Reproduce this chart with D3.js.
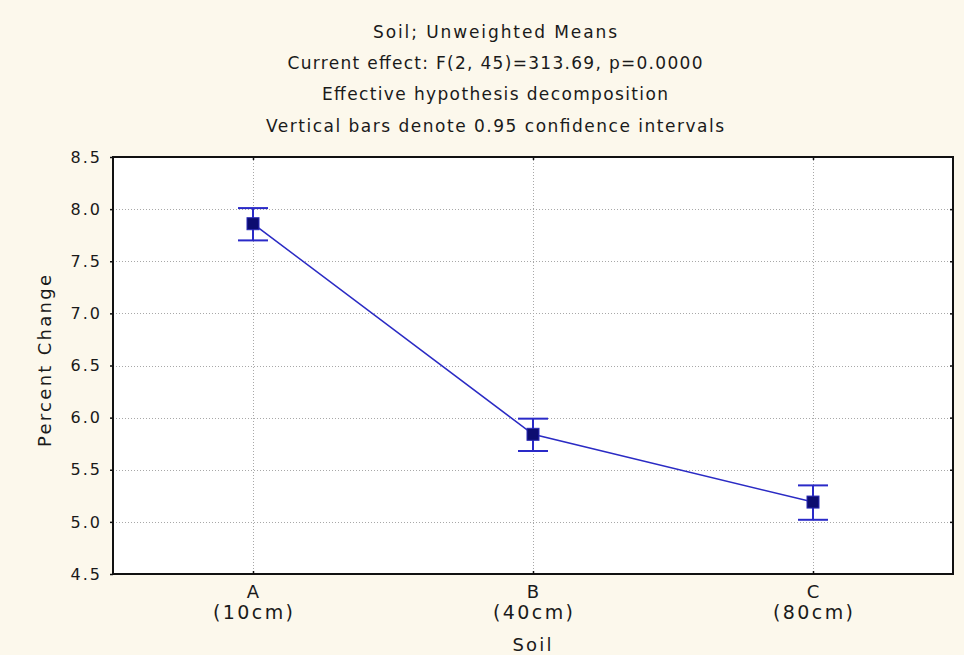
<!DOCTYPE html>
<html>
<head>
<meta charset="utf-8">
<script src="https://cdn.jsdelivr.net/npm/d3@7"></script>
<style>
  html, body { margin: 0; padding: 0; background: #fcf8ec; }
  svg { display: block; }
  text { font-family: "DejaVu Sans", Verdana, sans-serif; fill: #1a1a1a; }
</style>
</head>
<body>
<svg id="chart" width="964" height="655"></svg>
<script>
// Soil depth categories (letter + depth shown below each tick)
const categories = ["A", "B", "C"];
const depths = ["(10cm)", "(40cm)", "(80cm)"];
// Unweighted means and 0.95 confidence limits of Percent Change
const means = [7.86, 5.84, 5.19];
const ciLow = [7.70, 5.68, 5.02];
const ciHigh = [8.01, 5.99, 5.35];
// Y axis ticks
const yTicks = [4.5, 5.0, 5.5, 6.0, 6.5, 7.0, 7.5, 8.0, 8.5];
const titleLines = [
  "Soil; Unweighted Means",
  "Current effect: F(2, 45)=313.69, p=0.0000",
  "Effective hypothesis decomposition",
  "Vertical bars denote 0.95 confidence intervals"
];
const titleWidths = [244, 415, 346, 458];

const svg = d3.select("#chart");
const plot = { left: 113, right: 953, top: 157, bottom: 574 };

const x = d3.scalePoint().domain(categories).range([plot.left, plot.right]).padding(0.5);
const y = d3.scaleLinear().domain([4.5, 8.5]).range([plot.bottom, plot.top]);

// Titles
svg.append("g").selectAll("text").data(titleLines).join("text")
  .attr("x", 495)
  .attr("y", (d, i) => 38 + i * 31.2)
  .attr("text-anchor", "middle")
  .attr("font-size", 17)
  .attr("textLength", (d, i) => titleWidths[i])
  .attr("lengthAdjust", "spacing")
  .text(d => d);

// Plot background
svg.append("rect")
  .attr("x", plot.left).attr("y", plot.top)
  .attr("width", plot.right - plot.left).attr("height", plot.bottom - plot.top)
  .attr("fill", "#ffffff");

// Grid lines
const grid = svg.append("g").attr("stroke", "#a8a8a8").attr("stroke-dasharray", "1,2").attr("stroke-width", 1);
grid.selectAll("line.h").data(yTicks.filter(t => t > 4.5 && t < 8.5)).join("line")
  .attr("class", "h")
  .attr("x1", plot.left).attr("x2", plot.right)
  .attr("y1", d => Math.round(y(d)) + 0.5).attr("y2", d => Math.round(y(d)) + 0.5);
grid.selectAll("line.v").data(categories).join("line")
  .attr("class", "v")
  .attr("y1", plot.top).attr("y2", plot.bottom)
  .attr("x1", d => Math.round(x(d)) + 0.5).attr("x2", d => Math.round(x(d)) + 0.5);

// Axes
const yAxisL = d3.axisLeft(y).tickValues(yTicks).tickSize(3).tickFormat(d3.format(".1f"));
const yAxisR = d3.axisLeft(y).tickValues(yTicks.filter(t => t > 4.5 && t < 8.5)).tickSize(3).tickFormat("");
const xAxisB = d3.axisTop(x).tickSize(3).tickFormat("");
const xAxisT = d3.axisBottom(x).tickSize(3).tickFormat("");

const gl = svg.append("g").attr("transform", `translate(${plot.left},0)`).call(yAxisL);
gl.select(".domain").remove();
gl.selectAll("text").attr("font-size", 16).attr("letter-spacing", 2).attr("x", -11).attr("fill", "#1a1a1a");
svg.append("g").attr("transform", `translate(${plot.right},0)`).call(yAxisR).select(".domain").remove();
svg.append("g").attr("transform", `translate(0,${plot.bottom})`).call(xAxisB).select(".domain").remove();
svg.append("g").attr("transform", `translate(0,${plot.top})`).call(xAxisT).select(".domain").remove();
svg.selectAll(".tick line").attr("stroke", "#111").attr("stroke-width", 1.5);

// Frame
svg.append("rect")
  .attr("x", plot.left).attr("y", plot.top)
  .attr("width", plot.right - plot.left).attr("height", plot.bottom - plot.top)
  .attr("fill", "none").attr("stroke", "#111").attr("stroke-width", 2);

// Category labels
const xl = svg.append("g");
xl.selectAll("text.cat").data(categories).join("text")
  .attr("class", "cat")
  .attr("x", d => x(d)).attr("y", 598)
  .attr("text-anchor", "middle").attr("font-size", 18)
  .text(d => d);
xl.selectAll("text.depth").data(depths).join("text")
  .attr("class", "depth")
  .attr("x", (d, i) => x(categories[i])).attr("y", 619)
  .attr("text-anchor", "middle").attr("font-size", 19)
  .attr("textLength", 80).attr("lengthAdjust", "spacing")
  .text(d => d);

// Axis titles
svg.append("text")
  .attr("x", 532).attr("y", 651)
  .attr("text-anchor", "middle").attr("font-size", 18)
  .attr("textLength", 39).attr("lengthAdjust", "spacing")
  .text("Soil");
svg.append("text")
  .attr("transform", `translate(51,361) rotate(-90)`)
  .attr("text-anchor", "middle").attr("font-size", 18)
  .attr("textLength", 172).attr("lengthAdjust", "spacing")
  .text("Percent Change");

// Confidence interval bars
const ci = svg.append("g").attr("stroke", "#2a2ac8").attr("stroke-width", 2);
categories.forEach((c, i) => {
  const cx = x(c);
  ci.append("line").attr("x1", cx).attr("x2", cx).attr("y1", y(ciLow[i])).attr("y2", y(ciHigh[i]));
  ci.append("line").attr("x1", cx - 15).attr("x2", cx + 15).attr("y1", y(ciLow[i])).attr("y2", y(ciLow[i]));
  ci.append("line").attr("x1", cx - 15).attr("x2", cx + 15).attr("y1", y(ciHigh[i])).attr("y2", y(ciHigh[i]));
});

// Mean line
const line = d3.line().x((d, i) => x(categories[i])).y(d => y(d));
svg.append("path")
  .attr("d", line(means))
  .attr("fill", "none").attr("stroke", "#2b2bc4").attr("stroke-width", 1.5);

// Mean markers
svg.append("g").selectAll("rect").data(means).join("rect")
  .attr("x", (d, i) => x(categories[i]) - 6)
  .attr("y", d => y(d) - 6)
  .attr("width", 12).attr("height", 12)
  .attr("fill", "#0c0c70").attr("stroke", "#2a2ab8").attr("stroke-width", 1);
</script>
</body>
</html>
